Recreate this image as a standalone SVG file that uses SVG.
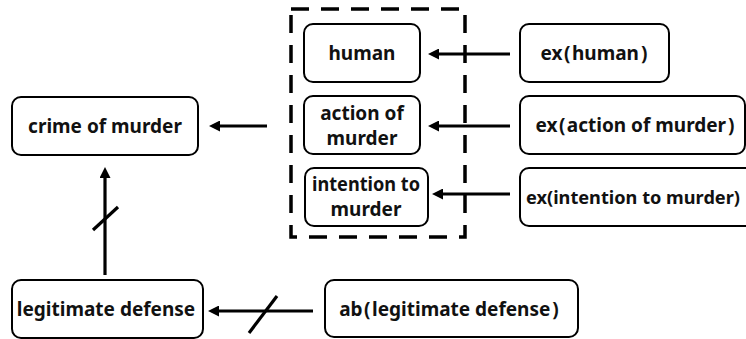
<svg xmlns="http://www.w3.org/2000/svg" width="746" height="339" viewBox="0 0 746 339">
  <style>
    .box { fill: #ffffff; stroke: #000000; stroke-width: 2; }
    .lbl { font-family: "Noto Sans", "Noto Sans CJK JP", sans-serif; font-weight: bold; font-size: 19px; fill: #111111; text-anchor: middle; dominant-baseline: central; }
    .lft { text-anchor: start; }
    .edge { stroke: #000000; stroke-width: 3.2; fill: none; }
    .cut { stroke: #000000; stroke-width: 3.2; }
    .group { fill: none; stroke: #000000; stroke-width: 3.5; stroke-dasharray: 18 12; }
  </style>
  <defs>
    <marker id="head" markerUnits="userSpaceOnUse" markerWidth="11" markerHeight="11" viewBox="0 0 11 11" refX="3" refY="5.5" orient="auto">
      <path d="M0,0 L11,5.5 L0,11 z" fill="#000000"/>
    </marker>
  </defs>

  <!-- dashed grouping frame around the three elements -->
  <rect class="group" x="291" y="9" width="174" height="228"/>

  <g id="crime-of-murder">
    <rect class="box" x="12" y="97" width="186" height="58" rx="9"/>
    <text class="lbl" x="105" y="126">crime of murder</text>
  </g>
  <g id="human">
    <rect class="box" x="304" y="24" width="116" height="58" rx="9"/>
    <text class="lbl" x="362" y="53">human</text>
  </g>
  <g id="action-of-murder">
    <rect class="box" x="304" y="96" width="116" height="58" rx="9"/>
    <text class="lbl" x="362" y="112.5">action of</text>
    <text class="lbl" x="362" y="137.5">murder</text>
  </g>
  <g id="intention-to-murder">
    <rect class="box" x="305" y="168" width="123" height="58" rx="9"/>
    <text class="lbl" x="366" y="183.5" textLength="108" lengthAdjust="spacingAndGlyphs">intention to</text>
    <text class="lbl" x="366" y="208.5">murder</text>
  </g>
  <g id="ex-human">
    <rect class="box" x="520" y="24" width="149" height="58" rx="9"/>
    <text class="lbl" x="594" y="53">ex<tspan dx="1.5">(</tspan><tspan dx="1.5">human</tspan><tspan dx="2">)</tspan></text>
  </g>
  <g id="ex-action-of-murder">
    <rect class="box" x="520" y="96" width="225" height="58" rx="9"/>
    <text class="lbl" x="635" y="125">ex<tspan dx="1.5">(</tspan><tspan dx="1.5">action of murder</tspan><tspan dx="2">)</tspan></text>
  </g>
  <g id="ex-intention-to-murder">
    <rect class="box" x="520" y="168" width="234" height="58" rx="9"/>
    <text class="lbl lft" x="526" y="197" style="font-size:17.5px" textLength="214" lengthAdjust="spacingAndGlyphs">ex(intention to murder)</text>
  </g>
  <g id="legitimate-defense">
    <rect class="box" x="12" y="280" width="191" height="58" rx="9"/>
    <text class="lbl" x="106" y="309">legitimate defense</text>
  </g>
  <g id="ab-legitimate-defense">
    <rect class="box" x="325" y="280" width="253" height="57" rx="9"/>
    <text class="lbl" x="449" y="309">ab<tspan dx="1.5">(</tspan><tspan dx="1.5">legitimate defense</tspan><tspan dx="2">)</tspan></text>
  </g>

  <g id="connectors">
    <line class="edge" x1="267" y1="126" x2="217" y2="126" marker-end="url(#head)"/>
    <line class="edge" x1="510" y1="54" x2="436" y2="54" marker-end="url(#head)"/>
    <line class="edge" x1="510" y1="126" x2="436" y2="126" marker-end="url(#head)"/>
    <line class="edge" x1="510" y1="194" x2="440" y2="194" marker-end="url(#head)"/>
    <line class="edge" x1="105" y1="275" x2="105" y2="175" marker-end="url(#head)"/>
    <line class="cut" x1="93" y1="230" x2="118" y2="207"/>
    <line class="edge" x1="313" y1="311" x2="216" y2="311" marker-end="url(#head)"/>
    <line class="cut" x1="249" y1="333" x2="277" y2="296"/>
  </g>
</svg>
